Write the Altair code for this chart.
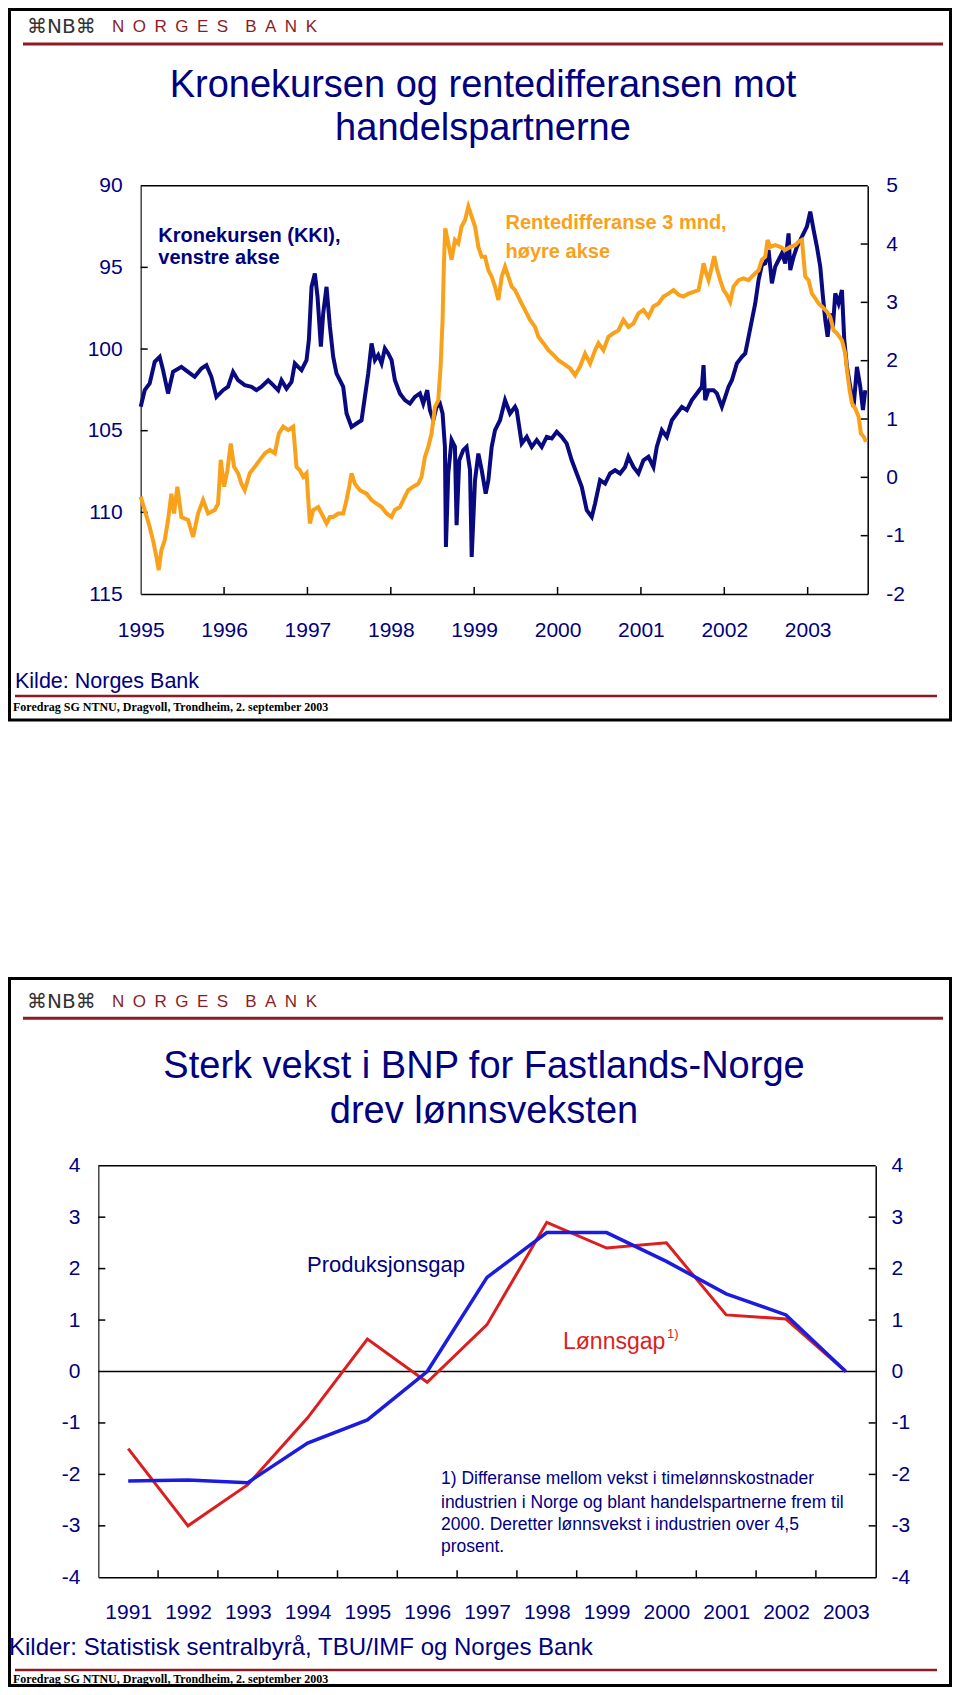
import altair as alt
import pandas as pd

# ---------------- data: slide 1 (Kronekursen og rentedifferansen) ----------------
kki_year = [1995.000, 1995.048, 1995.108, 1995.168, 1995.228, 1995.268, 1995.328, 1995.388, 1995.488, 1995.568,
            1995.648, 1995.728, 1995.788, 1995.848, 1995.908, 1995.988, 1996.048, 1996.108, 1996.168, 1996.248,
            1996.329, 1996.389, 1996.449, 1996.529, 1996.589, 1996.649, 1996.689, 1996.749, 1996.809, 1996.849,
            1996.889, 1996.929, 1996.989, 1997.017, 1997.049, 1997.089, 1997.121, 1997.161, 1997.189, 1997.229,
            1997.269, 1997.309, 1997.349, 1997.389, 1997.429, 1997.469, 1997.529, 1997.589, 1997.649, 1997.689,
            1997.729, 1997.769, 1997.809, 1997.849, 1997.889, 1997.929, 1997.969, 1998.009, 1998.049, 1998.109,
            1998.169, 1998.229, 1998.289, 1998.349, 1998.389, 1998.437, 1998.469, 1998.509, 1998.549, 1998.589,
            1998.621, 1998.649, 1998.661, 1998.689, 1998.729, 1998.769, 1998.789, 1998.821, 1998.869, 1998.909,
            1998.950, 1998.970, 1999.010, 1999.050, 1999.090, 1999.138, 1999.170, 1999.210, 1999.250, 1999.310,
            1999.370, 1999.430, 1999.490, 1999.510, 1999.570, 1999.630, 1999.690, 1999.750, 1999.810, 1999.870,
            1999.930, 1999.990, 2000.050, 2000.110, 2000.170, 2000.230, 2000.290, 2000.350, 2000.410, 2000.450,
            2000.510, 2000.570, 2000.630, 2000.690, 2000.750, 2000.810, 2000.850, 2000.910, 2000.970, 2001.030,
            2001.090, 2001.150, 2001.190, 2001.251, 2001.311, 2001.371, 2001.431, 2001.491, 2001.551, 2001.611,
            2001.671, 2001.731, 2001.751, 2001.771, 2001.811, 2001.871, 2001.911, 2001.971, 2002.011, 2002.051,
            2002.091, 2002.151, 2002.211, 2002.251, 2002.291, 2002.331, 2002.371, 2002.411, 2002.451, 2002.491,
            2002.531, 2002.571, 2002.611, 2002.651, 2002.691, 2002.731, 2002.771, 2002.791, 2002.831, 2002.871,
            2002.911, 2002.951, 2002.991, 2003.031, 2003.071, 2003.111, 2003.151, 2003.183, 2003.211, 2003.239,
            2003.271, 2003.303, 2003.331, 2003.371, 2003.411, 2003.439, 2003.471, 2003.511, 2003.551, 2003.591,
            2003.631, 2003.663, 2003.691]
kki_value = [103.54, 102.52, 102.11, 100.78, 100.48, 101.29, 102.72, 101.40, 101.09, 101.40,
             101.70, 101.19, 100.99, 101.70, 102.93, 102.52, 102.31, 101.40, 101.91, 102.21,
             102.31, 102.52, 102.31, 101.91, 102.21, 102.52, 101.91, 102.42, 102.01, 100.88,
             101.09, 101.29, 100.68, 99.45, 96.19, 95.37, 96.80, 99.86, 97.82, 96.19,
             98.60, 100.48, 101.50, 101.91, 102.31, 103.95, 104.77, 104.56, 104.36, 102.93,
             101.50, 99.66, 100.68, 100.37, 100.88, 99.97, 100.27, 100.68, 101.91, 102.72,
             103.13, 103.34, 102.93, 102.72, 103.34, 102.52, 103.74, 104.36, 103.54, 103.34,
             103.95, 105.99, 112.12, 107.62, 105.58, 105.99, 110.79, 106.81, 106.19, 105.99,
             107.42, 112.73, 108.03, 106.40, 107.42, 108.85, 108.03, 105.99, 104.97, 104.36,
             103.13, 103.95, 103.54, 103.74, 105.79, 105.38, 105.99, 105.58, 105.99, 105.38,
             105.48, 105.07, 105.38, 105.79, 106.81, 107.62, 108.44, 109.87, 110.28, 109.46,
             108.03, 108.24, 107.62, 107.42, 107.62, 107.22, 106.60, 107.22, 107.62, 106.81,
             106.60, 107.22, 105.99, 104.97, 105.38, 104.36, 103.95, 103.54, 103.74, 103.13,
             102.72, 102.31, 100.99, 103.13, 102.52, 102.52, 102.72, 103.54, 102.93, 102.31,
             101.91, 100.88, 100.48, 100.27, 99.25, 98.23, 97.21, 95.78, 94.86, 94.76,
             93.94, 95.98, 94.96, 94.55, 94.14, 94.76, 92.92, 95.17, 94.35, 93.74,
             93.33, 92.92, 92.51, 91.59, 92.71, 93.74, 94.96, 96.80, 98.23, 99.25,
             97.82, 98.64, 96.60, 97.21, 96.39, 99.45, 101.09, 102.31, 103.54, 101.09,
             102.31, 103.74, 102.52]

rente_year = [1995.000, 1995.048, 1995.108, 1995.148, 1995.188, 1995.216, 1995.248, 1995.288, 1995.328, 1995.368,
              1995.400, 1995.440, 1995.488, 1995.568, 1995.628, 1995.688, 1995.748, 1995.808, 1995.888, 1995.928,
              1995.960, 1996.000, 1996.040, 1996.080, 1996.120, 1996.168, 1996.208, 1996.248, 1996.308, 1996.369,
              1996.429, 1996.489, 1996.549, 1996.609, 1996.657, 1996.709, 1996.769, 1996.829, 1996.869, 1996.909,
              1996.949, 1996.989, 1997.029, 1997.069, 1997.129, 1997.169, 1997.229, 1997.269, 1997.309, 1997.369,
              1997.429, 1997.469, 1997.501, 1997.529, 1997.569, 1997.629, 1997.709, 1997.769, 1997.829, 1997.889,
              1997.949, 1998.009, 1998.049, 1998.109, 1998.169, 1998.209, 1998.269, 1998.329, 1998.369, 1998.409,
              1998.449, 1998.489, 1998.529, 1998.569, 1998.597, 1998.621, 1998.637, 1998.653, 1998.689, 1998.729,
              1998.769, 1998.809, 1998.849, 1998.890, 1998.930, 1998.970, 1999.010, 1999.050, 1999.090, 1999.130,
              1999.170, 1999.210, 1999.250, 1999.290, 1999.330, 1999.370, 1999.410, 1999.450, 1999.490, 1999.570,
              1999.630, 1999.670, 1999.730, 1999.770, 1999.830, 1999.890, 1999.950, 2000.010, 2000.070, 2000.150,
              2000.210, 2000.270, 2000.330, 2000.390, 2000.450, 2000.490, 2000.550, 2000.610, 2000.670, 2000.730,
              2000.790, 2000.850, 2000.910, 2000.970, 2001.030, 2001.090, 2001.150, 2001.211, 2001.271, 2001.331,
              2001.391, 2001.451, 2001.511, 2001.571, 2001.631, 2001.691, 2001.731, 2001.751, 2001.783, 2001.811,
              2001.851, 2001.879, 2001.911, 2001.951, 2001.991, 2002.031, 2002.071, 2002.111, 2002.171, 2002.231,
              2002.291, 2002.351, 2002.411, 2002.451, 2002.491, 2002.519, 2002.551, 2002.611, 2002.671, 2002.731,
              2002.791, 2002.851, 2002.891, 2002.931, 2002.971, 2003.011, 2003.051, 2003.091, 2003.131, 2003.171,
              2003.231, 2003.271, 2003.311, 2003.351, 2003.411, 2003.451, 2003.471, 2003.503, 2003.531, 2003.571,
              2003.611, 2003.639, 2003.671, 2003.699]
rente_value = [-0.33, -0.56, -0.85, -1.08, -1.36, -1.59, -1.25, -1.08, -0.73, -0.28,
               -0.62, -0.16, -0.68, -0.73, -1.02, -0.62, -0.39, -0.62, -0.56, -0.45,
               0.30, -0.16, 0.12, 0.58, 0.18, 0.07, -0.11, -0.22, 0.07, 0.18,
               0.30, 0.41, 0.47, 0.41, 0.75, 0.87, 0.81, 0.87, 0.18, 0.12,
               0.01, 0.07, -0.79, -0.56, -0.51, -0.62, -0.79, -0.68, -0.68, -0.62,
               -0.62, -0.39, -0.16, 0.07, -0.11, -0.22, -0.28, -0.39, -0.45, -0.51,
               -0.62, -0.68, -0.56, -0.51, -0.33, -0.22, -0.16, -0.11, 0.01, 0.35,
               0.52, 0.75, 1.21, 1.32, 1.90, 2.70, 3.67, 4.27, 4.01, 3.73,
               4.07, 4.01, 4.30, 4.41, 4.64, 4.47, 4.30, 3.95, 3.78, 3.78,
               3.55, 3.44, 3.27, 3.04, 3.44, 3.61, 3.44, 3.27, 3.21, 2.98,
               2.81, 2.70, 2.58, 2.41, 2.30, 2.18, 2.10, 2.01, 1.95, 1.87,
               1.75, 1.90, 2.12, 1.95, 2.18, 2.30, 2.18, 2.41, 2.47, 2.52,
               2.70, 2.58, 2.64, 2.81, 2.87, 2.75, 2.93, 2.98, 3.10, 3.15,
               3.21, 3.13, 3.10, 3.15, 3.18, 3.21, 3.50, 3.67, 3.50, 3.38,
               3.61, 3.79, 3.58, 3.38, 3.21, 3.13, 3.01, 3.27, 3.38, 3.41,
               3.38, 3.47, 3.55, 3.73, 3.78, 4.07, 3.95, 3.98, 3.95, 3.90,
               3.95, 3.98, 4.04, 4.07, 3.44, 3.38, 3.15, 3.07, 2.98, 2.93,
               2.84, 2.75, 2.52, 2.47, 2.35, 2.12, 1.84, 1.50, 1.27, 1.18,
               1.04, 0.75, 0.70, 0.61]

x1_years = [1995, 1996, 1997, 1998, 1999, 2000, 2001, 2002, 2003]
kki_ticks = [90, 95, 100, 105, 110, 115]
rente_ticks = [-2, -1, 0, 1, 2, 3, 4, 5]

# ---------------- data: slide 2 (Produksjonsgap / Lønnsgap) ----------------
aar = [1991, 1992, 1993, 1994, 1995, 1996, 1997, 1998, 1999, 2000, 2001, 2002, 2003]
lonnsgap = [-1.5, -3.0, -2.2, -0.9, 0.63, -0.21, 0.91, 2.9, 2.4, 2.5, 1.1, 1.02, 0.0]
produksjonsgap = [-2.13, -2.11, -2.16, -1.39, -0.94, 0.0, 1.83, 2.7, 2.7, 2.14, 1.51, 1.1, 0.0]
gap_ticks = [-4, -3, -2, -1, 0, 1, 2, 3, 4]

# ---------------- styling ----------------
W = 944
H1 = 969
H2 = 710
SANS = "Liberation Sans"
SERIF = "Liberation Serif"
NAVY_TXT = "#000080"
NAVY_LINE = "#0A0A80"
ORANGE = "#F9A11B"
RED = "#DC1E1E"
BLUE = "#1C1CE0"
BANKRED = "#8B1C24"

blank = alt.Data(values=[{}])


def text(s, x, y, size, color, weight="normal", align="left", baseline="middle", font=SANS):
    return alt.Chart(blank).mark_text(
        text=s, align=align, baseline=baseline, fontSize=size, font=font,
        fontWeight=weight, color=color
    ).encode(x=alt.value(x), y=alt.value(y))


def hrule(xa, xb, y, color="black", width=1.5):
    return alt.Chart(blank).mark_rule(color=color, strokeWidth=width).encode(
        x=alt.value(xa), x2=alt.value(xb), y=alt.value(y))


def frame(xa, ya, xb, yb):
    return alt.Chart(blank).mark_rect(filled=False, stroke="black", strokeWidth=3).encode(
        x=alt.value(xa), x2=alt.value(xb), y=alt.value(ya), y2=alt.value(yb))


def yticks(vals, scale, xa, xb):
    return alt.Chart(pd.DataFrame({"v": vals})).mark_rule(color="black", strokeWidth=1.5).encode(
        y=alt.Y("v:Q", scale=scale, axis=None), x=alt.value(xa), x2=alt.value(xb))


def xticks(vals, scale, ya, yb):
    return alt.Chart(pd.DataFrame({"v": vals})).mark_rule(color="black", strokeWidth=1.5).encode(
        x=alt.X("v:Q", scale=scale, axis=None), y=alt.value(ya), y2=alt.value(yb))


def axis(orient, values, offset, pad, dcolor="black"):
    return alt.Axis(orient=orient, values=values, offset=offset, labelPadding=pad,
                    ticks=False, tickSize=0, grid=False, title=None,
                    domainColor=dcolor, domainWidth=1.5, labelFont=SANS, labelFontSize=21,
                    labelColor=NAVY_TXT, labelFlush=False, labelOverlap=False,
                    labelExpr="toString(datum.value)")


def header(y_logo, y_rule, y_t1, y_t2, t1, t2, cx):
    return [
        text("\u2318NB\u2318", 19, y_logo, 20, "#333333", font="DejaVu Sans"),
        text("N\u2002O\u2002R\u2002G\u2002E\u2002S\u2002\u2002B\u2002A\u2002N\u2002K", 104, y_logo, 17, BANKRED),
        hrule(15, 935, y_rule, BANKRED, 3),
        text(t1, cx, y_t1, 38, NAVY_TXT, align="center"),
        text(t2, cx, y_t2, 38, NAVY_TXT, align="center"),
    ]


# ---------------- slide 1 ----------------
L1, R1, T1, B1 = 132.7, 859.7, 177.7, 586.0
x1 = alt.Scale(domain=[1995, 2003.72], range=[L1, R1], nice=False, zero=False)
yk = alt.Scale(domain=[90, 115], range=[T1, B1], nice=False, zero=False)
yr = alt.Scale(domain=[-2, 5], range=[B1, T1], nice=False, zero=False)

kki_line = alt.Chart(pd.DataFrame({"year": kki_year, "KKI": kki_value})).mark_line(
    color=NAVY_LINE, strokeWidth=4).encode(
    x=alt.X("year:Q", scale=x1, axis=axis("bottom", x1_years, B1 - H1, 25)),
    y=alt.Y("KKI:Q", scale=yk, axis=axis("left", kki_ticks, -L1, 18.5, "#444444")),
    order="year:Q")

rente_line = alt.Chart(pd.DataFrame({"year": rente_year, "rente": rente_value})).mark_line(
    color=ORANGE, strokeWidth=4).encode(
    x=alt.X("year:Q", scale=x1, axis=None),
    y=alt.Y("rente:Q", scale=yr, axis=axis("right", rente_ticks, R1 - W, 18)),
    order="year:Q")

slide1_layers = [frame(1.5, 1.5, 942.5, 712)] + header(19, 36, 78, 121,
    "Kronekursen og rentedifferansen mot", "handelspartnerne", 475) + [
    hrule(L1, R1, T1, "black", 1.5),
    yticks([95, 100, 105, 110], yk, L1, L1 + 7),
    yticks([-1, 0, 1, 2, 3, 4], yr, R1 - 7, R1),
    xticks(x1_years[1:], x1, B1 - 7, B1),
    kki_line,
    rente_line,
    text("Kronekursen (KKI),", 150.3, 233.7, 20, NAVY_TXT, "bold", baseline="alphabetic"),
    text("venstre akse", 150.3, 256.0, 20, NAVY_TXT, "bold", baseline="alphabetic"),
    text("Rentedifferanse 3 mnd,", 497.5, 221.3, 20, ORANGE, "bold", baseline="alphabetic"),
    text("høyre akse", 497.5, 250.3, 20, ORANGE, "bold", baseline="alphabetic"),
    text("Kilde: Norges Bank", 7, 674, 21.5, NAVY_TXT),
    hrule(7, 929, 688, BANKRED, 2.5),
    text("Foredrag SG NTNU, Dragvoll, Trondheim, 2. september 2003", 5, 698.7, 12, "black", "bold", font=SERIF),
]
slide1 = alt.layer(*slide1_layers).resolve_scale(x="independent", y="independent").properties(
    width=W, height=H1)

# ---------------- slide 2 ----------------
L2, R2, T2, B2 = 90.3, 867.7, 188.7, 600.3
x2 = alt.Scale(domain=[1990.5, 2003.5], range=[L2, R2], nice=False, zero=False)
yg = alt.Scale(domain=[-4, 4], range=[B2, T2], nice=False, zero=False)

gap_df = pd.DataFrame({"year": aar, "Lønnsgap": lonnsgap, "Produksjonsgap": produksjonsgap})

red_line = alt.Chart(gap_df).mark_line(color=RED, strokeWidth=3).encode(
    x=alt.X("year:Q", scale=x2, axis=axis("bottom", aar, B2 - H2, 23.7)),
    y=alt.Y("Lønnsgap:Q", scale=yg, axis=axis("left", gap_ticks, -L2, 18.3, "#444444")))

blue_line = alt.Chart(gap_df).mark_line(color=BLUE, strokeWidth=3.5).encode(
    x=alt.X("year:Q", scale=x2, axis=None),
    y=alt.Y("Produksjonsgap:Q", scale=yg, axis=axis("right", gap_ticks, R2 - W, 15.3)))

zero_line = alt.Chart(pd.DataFrame({"v": [0]})).mark_rule(color="black", strokeWidth=1.5).encode(
    y=alt.Y("v:Q", scale=yg, axis=None), x=alt.value(L2), x2=alt.value(R2))

slide2_layers = [frame(1.5, 1.5, 942.5, 708.5)] + header(25, 41.3, 89.7, 134.7,
    "Sterk vekst i BNP for Fastlands-Norge", "drev lønnsveksten", 476) + [
    hrule(L2, R2, T2, "black", 1.5),
    zero_line,
    yticks([-3, -2, -1, 1, 2, 3], yg, L2, L2 + 7),
    yticks([-3, -2, -1, 1, 2, 3], yg, R2 - 7, R2),
    xticks([y + 0.5 for y in aar[:-1]], x2, B2 - 7, B2),
    red_line,
    blue_line,
    text("Produksjonsgap", 378, 288, 22, NAVY_TXT, align="center"),
    text("Lønnsgap", 555, 364.7, 23, RED),
    text("1)", 659, 357, 13, RED),
    text("1) Differanse mellom vekst i timelønnskostnader", 433, 502.3, 17.5, NAVY_TXT),
    text("industrien i Norge og blant handelspartnerne frem til", 433, 525.7, 17.5, NAVY_TXT),
    text("2000. Deretter lønnsvekst i industrien over 4,5", 433, 548.0, 17.5, NAVY_TXT),
    text("prosent.", 433, 569.7, 17.5, NAVY_TXT),
    text("Kilder: Statistisk sentralbyrå, TBU/IMF og Norges Bank", 1, 671.3, 24, NAVY_TXT),
    hrule(7, 929, 693, BANKRED, 2.5),
    text("Foredrag SG NTNU, Dragvoll, Trondheim, 2. september 2003", 5, 702.3, 12, "black", "bold", font=SERIF),
]
slide2 = alt.layer(*slide2_layers).resolve_scale(x="independent", y="independent").properties(
    width=W, height=H2)

chart = alt.vconcat(slide1, slide2, spacing=0, bounds="flush").properties(
    padding=0).configure_view(strokeWidth=0)

chart.save("out.html", embed_options={"renderer": "svg", "actions": False})
